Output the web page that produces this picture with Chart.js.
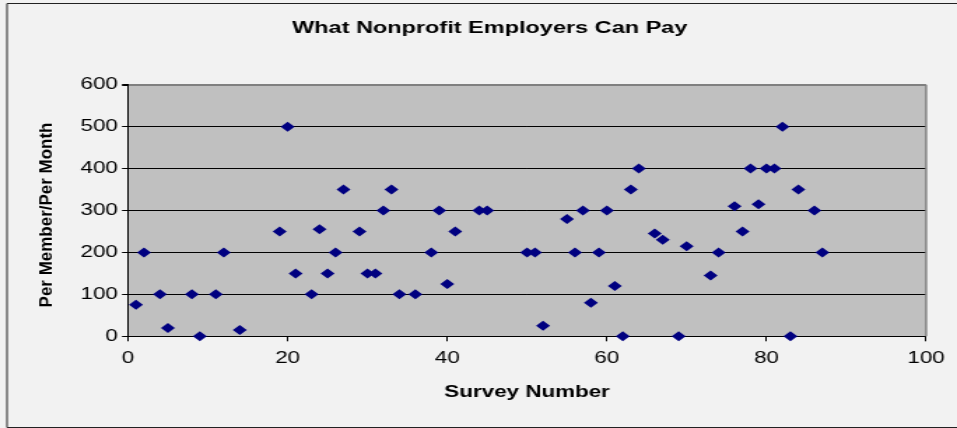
<!DOCTYPE html>
<html>
<head>
    <title>What Nonprofit Employers Can Pay</title>
    <script src="https://cdn.jsdelivr.net/npm/chart.js"></script>
    <style>
        body {
            margin: 0;
            padding: 0;
            background-color: #f2f2f2;
            overflow: hidden;
        }
    </style>
</head>
<body>
    <!-- the original chart is drawn wide, so the canvas is stretched sideways -->
    <canvas id="payChart" width="684" height="428" style="width: 957px; height: 428px;"></canvas>

    <script>
        // survey number and monthly amount per member
        const surveyNumbers = [1, 2, 4, 5, 8, 9, 11, 12, 14, 19,
            20, 21, 23, 24, 25, 26, 27, 29, 30, 31,
            32, 33, 34, 36, 38, 39, 40, 41, 44, 45,
            50, 51, 52, 55, 56, 57, 58, 59, 60, 61,
            62, 63, 64, 66, 67, 69, 70, 73, 74, 76,
            77, 78, 79, 80, 81, 82, 83, 84, 86, 87];
        const payPerMember = [75, 200, 100, 20, 100, 0, 100, 200, 15, 250,
            500, 150, 100, 255, 150, 200, 350, 250, 150, 150,
            300, 350, 100, 100, 200, 300, 125, 250, 300, 300,
            200, 200, 25, 280, 200, 300, 80, 200, 300, 120,
            0, 350, 400, 245, 230, 0, 215, 145, 200, 310,
            250, 400, 315, 400, 400, 500, 0, 350, 300, 200];
        const xTicks = [0, 20, 40, 60, 80, 100];
        const yTicks = [0, 100, 200, 300, 400, 500, 600];

        const chartTitle = 'What Nonprofit Employers Can Pay';
        const xTitle = 'Survey Number';
        const yTitle = 'Per Member/Per Month';

        const FONT = 'Arial, "Liberation Sans", sans-serif';

        // background, frame, plot fill and the two titles chart.js can't place
        const backdrop = {
            id: 'backdrop',
            beforeDraw(chart) {
                const { ctx, chartArea: a, width, height } = chart;
                ctx.save();
                ctx.fillStyle = '#f2f2f2';
                ctx.fillRect(0, 0, width, height);
                ctx.fillStyle = '#c0c0c0';
                ctx.fillRect(a.left, a.top, a.right - a.left, a.bottom - a.top);

                ctx.strokeStyle = '#222';
                ctx.lineWidth = 1;
                ctx.beginPath();
                ctx.moveTo(width + 5, 3.5);
                ctx.lineTo(5, 3.5);
                ctx.lineTo(5, 427.5);
                ctx.lineTo(width + 5, 427.5);
                ctx.stroke();

                ctx.fillStyle = '#000';
                ctx.textAlign = 'center';
                ctx.textBaseline = 'middle';
                ctx.font = 'bold 16.8px ' + FONT;
                ctx.fillText(chartTitle, 350, 28);

                ctx.translate(33.4, 215);
                ctx.rotate(-Math.PI / 2);
                ctx.scale(1.38, 1);
                ctx.font = 'bold 12.3px ' + FONT;
                ctx.fillText(yTitle, 0, 0);
                ctx.restore();
            },
            beforeDatasetsDraw(chart) {
                const { ctx, chartArea: a } = chart;
                ctx.save();
                ctx.strokeStyle = '#808080';
                ctx.lineWidth = 1.5;
                ctx.beginPath();
                ctx.moveTo(a.right, a.top);
                ctx.lineTo(a.right, a.bottom);
                ctx.stroke();
                ctx.restore();
            }
        };

        new Chart(document.getElementById('payChart'), {
            type: 'scatter',
            data: {
                datasets: [{
                    data: surveyNumbers.map((n, i) => ({ x: n, y: payPerMember[i] })),
                    pointStyle: 'rectRot',
                    pointRadius: 5,
                    pointBackgroundColor: '#000080',
                    pointBorderColor: '#000080',
                    pointBorderWidth: 0,
                    clip: false
                }]
            },
            options: {
                responsive: false,
                devicePixelRatio: 1,
                animation: false,
                events: [],
                layout: { padding: { top: 84.7, right: 22.1, bottom: 0, left: 0 } },
                plugins: {
                    legend: { display: false },
                    title: { display: false },
                    tooltip: { enabled: false }
                },
                scales: {
                    x: {
                        type: 'linear',
                        min: 0,
                        max: 100,
                        afterBuildTicks: scale => { scale.ticks = xTicks.map(v => ({ value: v })); },
                        afterFit: scale => { scale.height = 91.7; },
                        ticks: { color: '#000', padding: 8, font: { family: FONT, size: 16 } },
                        grid: { drawOnChartArea: false, tickLength: 5, tickColor: '#000' },
                        border: { color: '#000', width: 1 },
                        title: {
                            display: true,
                            text: xTitle,
                            color: '#000',
                            padding: { top: 0, bottom: 25.4 },
                            font: { family: FONT, size: 16, weight: 'bold' }
                        }
                    },
                    y: {
                        min: 0,
                        max: 600,
                        afterBuildTicks: scale => { scale.ticks = yTicks.map(v => ({ value: v })); },
                        afterFit: scale => { scale.width = 91.5; },
                        ticks: { color: '#000', padding: 3, font: { family: FONT, size: 16 } },
                        grid: {
                            color: c => c.tick && c.tick.value === 600 ? '#808080' : '#000',
                            lineWidth: c => c.tick && c.tick.value === 600 ? 2 : 1,
                            tickLength: 4.3,
                            tickColor: '#000'
                        },
                        border: { color: '#000', width: 1 }
                    }
                }
            },
            plugins: [backdrop]
        });
    </script>
</body>
</html>
